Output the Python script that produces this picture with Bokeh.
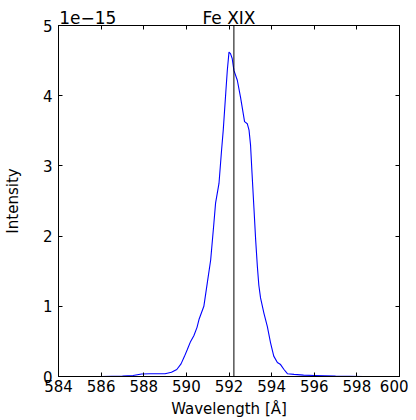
from bokeh.plotting import figure
from bokeh.models import Span, LinearAxis, FixedTicker, Range1d
from bokeh.embed import file_html
from bokeh.resources import INLINE

# Data (intensity in units of 1e-15)
wavelength = [586.0, 587.0, 587.5, 587.9, 588.3, 589.0, 589.3, 589.55, 589.75, 589.9,
              590.04, 590.2, 590.35, 590.5, 590.6, 590.82, 590.98, 591.14, 591.29, 591.37,
              591.53, 591.65, 591.73, 591.85, 591.92, 592.0, 592.07, 592.15, 592.23, 592.39,
              592.54, 592.73, 592.86, 592.94, 593.01, 593.08, 593.17, 593.25, 593.33, 593.4,
              593.48, 593.64, 593.8, 593.95, 594.1, 594.27, 594.42, 594.58, 594.74, 595.05,
              595.5, 596.0, 597.0, 598.3]
intensity = [0.0, 0.005, 0.015, 0.035, 0.04, 0.04, 0.06, 0.1, 0.18, 0.28,
             0.38, 0.5, 0.58, 0.7, 0.82, 1.0, 1.33, 1.66, 2.18, 2.47,
             2.75, 3.22, 3.51, 4.05, 4.36, 4.62, 4.6, 4.53, 4.36, 4.22,
             3.98, 3.63, 3.6, 3.51, 3.3, 2.9, 2.4, 1.95, 1.57, 1.3,
             1.12, 0.9, 0.71, 0.48, 0.29, 0.2, 0.17, 0.1, 0.04, 0.03,
             0.02, 0.015, 0.005, 0.0]
line_center = 592.23
x_ticks = [584, 586, 588, 590, 592, 594, 596, 598, 600]
y_ticks = [0, 1, 2, 3, 4, 5]
title_text = "Fe XIX"
offset_text = "1e\u221215"
x_label = "Wavelength [\u212b]"
y_label = "Intensity"

# where the texts above the frame are centred (in wavelength units)
offset_pos = 585.375
title_pos = 592.0

FONT = "DejaVu Sans"
FS = "15px"

p = figure(width=408, height=420, output_backend="svg", toolbar_location=None,
           x_range=Range1d(584, 600), y_range=Range1d(0, 5), title=None,
           min_border_left=58, min_border_right=9, min_border_top=25, min_border_bottom=43,
           x_axis_location=None, y_axis_location=None)
p.background_fill_color = "white"
p.border_fill_color = "white"
p.outline_line_color = "black"
p.outline_line_width = 1
p.xgrid.visible = False
p.ygrid.visible = False


def style(ax, labels=True):
    ax.major_tick_in = 4
    ax.major_tick_out = 0
    ax.minor_tick_line_color = None
    ax.axis_line_color = "black"
    ax.major_tick_line_color = "black"
    ax.major_label_text_font = FONT
    ax.major_label_text_font_size = FS if labels else "0px"
    ax.major_label_text_color = "black"
    ax.axis_label_text_font = FONT
    ax.axis_label_text_font_size = FS
    ax.axis_label_text_font_style = "normal"
    ax.axis_label_text_color = "black"
    if not labels:
        ax.major_label_text_alpha = 0
        ax.major_label_standoff = 0


xb = LinearAxis(ticker=FixedTicker(ticks=x_ticks), axis_label=x_label)
style(xb)
xb.major_label_standoff = 3
xb.axis_label_standoff = 5
p.add_layout(xb, "below")

yl = LinearAxis(ticker=FixedTicker(ticks=y_ticks), axis_label=y_label)
style(yl)
yl.major_label_standoff = 6
yl.axis_label_standoff = 18
p.add_layout(yl, "left")

yr = LinearAxis(ticker=FixedTicker(ticks=y_ticks))
style(yr, labels=False)
p.add_layout(yr, "right")

# top axis: minor ticks give the inward tick marks, major ticks carry the texts
xt = LinearAxis(ticker=FixedTicker(ticks=[offset_pos, title_pos], minor_ticks=x_ticks),
                major_label_overrides={offset_pos: offset_text, title_pos: title_text})
style(xt)
xt.major_tick_line_color = None
xt.minor_tick_line_color = "black"
xt.minor_tick_in = 4
xt.minor_tick_out = 0
xt.major_label_text_font_size = "17px"
xt.major_label_standoff = -2
p.add_layout(xt, "above")

p.line(wavelength, intensity, line_color="#0000ff", line_width=1.1)

p.add_layout(Span(location=line_center, dimension="height", line_color="black", line_width=1))

open("out.html", "w").write(file_html(p, INLINE))
